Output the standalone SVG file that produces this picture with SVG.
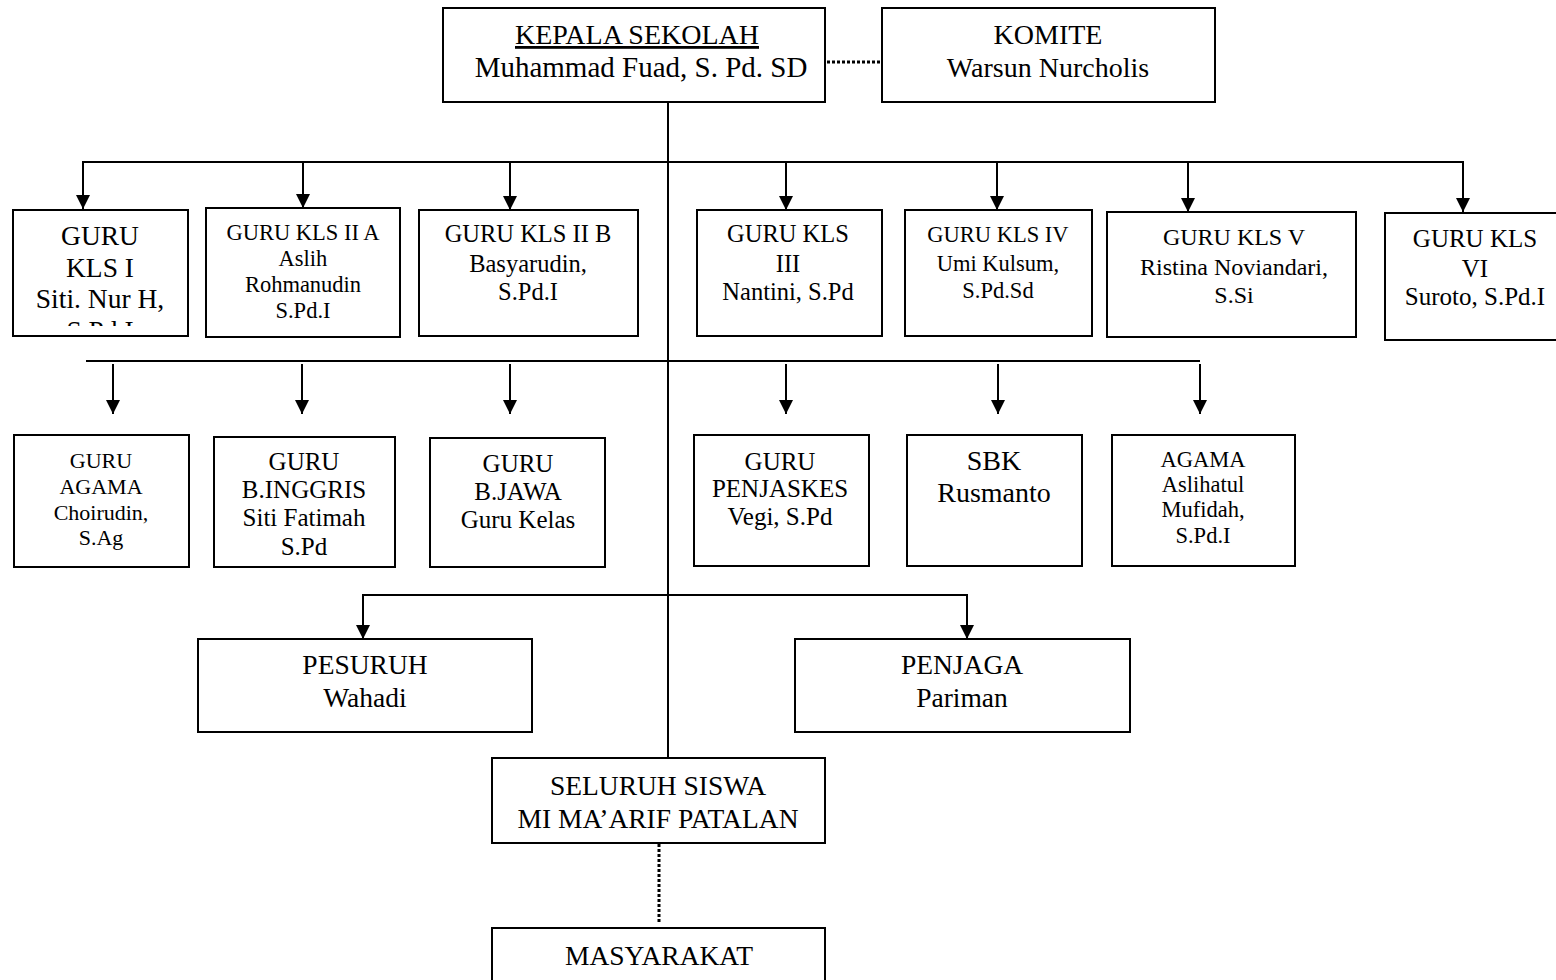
<svg xmlns="http://www.w3.org/2000/svg" width="1556" height="980" viewBox="0 0 1556 980">
<style>
.box{fill:#fff;stroke:#000;stroke-width:2}
.ln{fill:none;stroke:#000;stroke-width:2}
.dot{fill:none;stroke:#000;stroke-width:3;stroke-dasharray:3 2}
text{font-family:"Liberation Serif","Times New Roman",serif;fill:#000;text-anchor:middle}
</style>
<defs>
<marker id="ah" markerUnits="userSpaceOnUse" markerWidth="14" markerHeight="14" refX="14" refY="7" orient="auto">
<path d="M0,0 L14,7 L0,14 z" fill="#000"/>
</marker>
<clipPath id="c1"><rect x="13" y="210" width="175" height="116"/></clipPath>
</defs>
<rect width="1556" height="980" fill="#fff"/>
<g id="connectors">
<line class="ln" x1="668" y1="102" x2="668" y2="758"/>
<line class="dot" x1="827" y1="62" x2="881" y2="62"/>
<polyline class="ln" points="83,162 1463,162 1463,212" marker-end="url(#ah)"/>
<line class="ln" x1="83" y1="161" x2="83" y2="209" marker-end="url(#ah)"/>
<line class="ln" x1="303" y1="162" x2="303" y2="208" marker-end="url(#ah)"/>
<line class="ln" x1="510" y1="162" x2="510" y2="210" marker-end="url(#ah)"/>
<line class="ln" x1="786" y1="162" x2="786" y2="210" marker-end="url(#ah)"/>
<line class="ln" x1="997" y1="162" x2="997" y2="210" marker-end="url(#ah)"/>
<line class="ln" x1="1188" y1="162" x2="1188" y2="212" marker-end="url(#ah)"/>
<line class="ln" x1="86" y1="361" x2="1200" y2="361"/>
<line class="ln" x1="113" y1="364" x2="113" y2="414" marker-end="url(#ah)"/>
<line class="ln" x1="302" y1="364" x2="302" y2="414" marker-end="url(#ah)"/>
<line class="ln" x1="510" y1="364" x2="510" y2="414" marker-end="url(#ah)"/>
<line class="ln" x1="786" y1="364" x2="786" y2="414" marker-end="url(#ah)"/>
<line class="ln" x1="998" y1="364" x2="998" y2="414" marker-end="url(#ah)"/>
<line class="ln" x1="1200" y1="364" x2="1200" y2="414" marker-end="url(#ah)"/>
<polyline class="ln" points="363,595 967,595 967,639" marker-end="url(#ah)"/>
<line class="ln" x1="363" y1="594" x2="363" y2="639" marker-end="url(#ah)"/>
<line class="dot" x1="659" y1="844" x2="659" y2="922"/>
</g>
<g id="kepala">
<rect class="box" x="443" y="8" width="382" height="94"/>
<text x="637" y="44" font-size="28" text-decoration="underline">KEPALA SEKOLAH</text>
<text x="641" y="77" font-size="29">Muhammad Fuad, S. Pd. SD</text>
</g>
<g id="komite">
<rect class="box" x="882" y="8" width="333" height="94"/>
<text x="1048" y="44" font-size="28">KOMITE</text>
<text x="1048" y="77" font-size="28">Warsun Nurcholis</text>
</g>
<g id="kls1">
<rect class="box" x="13" y="210" width="175" height="126"/>
<g clip-path="url(#c1)" font-size="27.5">
<text x="100" y="245">GURU</text>
<text x="100" y="277">KLS I</text>
<text x="100" y="308">Siti. Nur H,</text>
<text x="100" y="340">S.Pd.I</text>
</g>
</g>
<g id="kls2a" font-size="22.5">
<rect class="box" x="206" y="208" width="194" height="129"/>
<text x="303" y="240">GURU KLS II A</text>
<text x="303" y="266">Aslih</text>
<text x="303" y="292">Rohmanudin</text>
<text x="303" y="318">S.Pd.I</text>
</g>
<g id="kls2b" font-size="24.5">
<rect class="box" x="419" y="210" width="219" height="126"/>
<text x="528" y="242">GURU KLS II B</text>
<text x="528" y="272">Basyarudin,</text>
<text x="528" y="300">S.Pd.I</text>
</g>
<g id="kls3" font-size="24.5">
<rect class="box" x="697" y="210" width="185" height="126"/>
<text x="788" y="242">GURU KLS</text>
<text x="788" y="272">III</text>
<text x="788" y="300">Nantini, S.Pd</text>
</g>
<g id="kls4" font-size="22.5">
<rect class="box" x="905" y="210" width="187" height="126"/>
<text x="998" y="242">GURU KLS IV</text>
<text x="998" y="271">Umi Kulsum,</text>
<text x="998" y="298">S.Pd.Sd</text>
</g>
<g id="kls5" font-size="24">
<rect class="box" x="1107" y="212" width="249" height="125"/>
<text x="1234" y="245">GURU KLS V</text>
<text x="1234" y="275">Ristina Noviandari,</text>
<text x="1234" y="303">S.Si</text>
</g>
<g id="kls6" font-size="25">
<rect class="box" x="1385" y="213" width="182" height="127"/>
<text x="1475" y="247">GURU KLS</text>
<text x="1475" y="277">VI</text>
<text x="1475" y="305">Suroto, S.Pd.I</text>
</g>
<g id="agama1" font-size="22">
<rect class="box" x="14" y="435" width="175" height="132"/>
<text x="101" y="468">GURU</text>
<text x="101" y="494">AGAMA</text>
<text x="101" y="520">Choirudin,</text>
<text x="101" y="545">S.Ag</text>
</g>
<g id="inggris" font-size="25">
<rect class="box" x="214" y="437" width="181" height="130"/>
<text x="304" y="470">GURU</text>
<text x="304" y="498">B.INGGRIS</text>
<text x="304" y="526">Siti Fatimah</text>
<text x="304" y="555">S.Pd</text>
</g>
<g id="jawa" font-size="25">
<rect class="box" x="430" y="438" width="175" height="129"/>
<text x="518" y="472">GURU</text>
<text x="518" y="500">B.JAWA</text>
<text x="518" y="528">Guru Kelas</text>
</g>
<g id="penjaskes" font-size="25">
<rect class="box" x="694" y="435" width="175" height="131"/>
<text x="780" y="470">GURU</text>
<text x="780" y="497">PENJASKES</text>
<text x="780" y="525">Vegi, S.Pd</text>
</g>
<g id="sbk" font-size="28">
<rect class="box" x="907" y="435" width="175" height="131"/>
<text x="994" y="470">SBK</text>
<text x="994" y="502">Rusmanto</text>
</g>
<g id="agama2" font-size="22.5">
<rect class="box" x="1112" y="435" width="183" height="131"/>
<text x="1203" y="467">AGAMA</text>
<text x="1203" y="492">Aslihatul</text>
<text x="1203" y="517">Mufidah,</text>
<text x="1203" y="543">S.Pd.I</text>
</g>
<g id="pesuruh" font-size="27.5">
<rect class="box" x="198" y="639" width="334" height="93"/>
<text x="365" y="674">PESURUH</text>
<text x="365" y="707">Wahadi</text>
</g>
<g id="penjaga" font-size="27.5">
<rect class="box" x="795" y="639" width="335" height="93"/>
<text x="962" y="674">PENJAGA</text>
<text x="962" y="707">Pariman</text>
</g>
<g id="siswa" font-size="27.5">
<rect class="box" x="492" y="758" width="333" height="85"/>
<text x="658" y="795">SELURUH SISWA</text>
<text x="658" y="828">MI MA’ARIF PATALAN</text>
</g>
<g id="masyarakat" font-size="27.5">
<rect class="box" x="492" y="928" width="333" height="60"/>
<text x="659" y="965">MASYARAKAT</text>
</g>
</svg>
